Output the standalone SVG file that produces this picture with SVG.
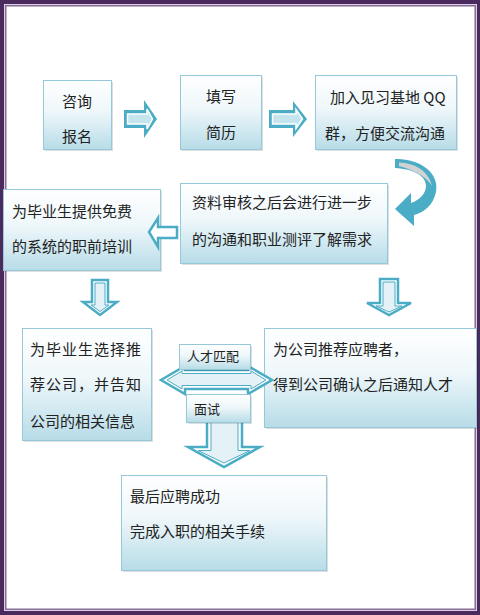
<svg xmlns="http://www.w3.org/2000/svg" width="480" height="615" viewBox="0 0 480 615">
<defs>
<linearGradient id="g" x1="0" y1="0" x2="0" y2="1">
<stop offset="0" stop-color="#ffffff"/>
<stop offset="0.45" stop-color="#eef7fa"/>
<stop offset="1" stop-color="#b7dce8"/>
</linearGradient>
<style>
.box{fill:url(#g);stroke:#95c9d9;stroke-width:1}
.sh{fill:#000;opacity:.13}
.t{font-family:"Noto Sans CJK SC","Noto Sans",sans-serif;font-size:15px;fill:#222}
.s{font-size:13px}
.c{text-anchor:middle}
.ao{fill:#4bacc6}
.ai{fill:#c4e5ee;stroke:#fff;stroke-width:1.5}
.ho{fill:#fff;stroke:#4bacc6;stroke-width:2.5;stroke-linejoin:miter}
.hi{fill:#e4f2f7;stroke:#4bacc6;stroke-width:1}
</style>
</defs>
<rect x="0" y="0" width="480" height="615" fill="#4b2b5d"/>
<rect x="4" y="4" width="473" height="607" fill="#ddd0e4"/>
<rect x="5.75" y="5.75" width="469.5" height="603.5" fill="#fff" stroke="#866c96" stroke-width="1.5"/>

<g id="node-zixun">
<rect class="sh" x="45" y="82" width="68" height="69"/>
<rect class="box" x="43.5" y="80.5" width="68" height="69"/>
<text class="t c" x="77" y="107">咨询</text>
<text class="t c" x="77" y="142">报名</text>
</g>
<g id="node-tianxie">
<rect class="sh" x="182" y="77" width="81" height="74"/>
<rect class="box" x="180.5" y="75.5" width="81" height="74"/>
<text class="t c" x="221" y="102">填写</text>
<text class="t c" x="221" y="138">简历</text>
</g>
<g id="node-qq">
<rect class="sh" x="317" y="77" width="141" height="74"/>
<rect class="box" x="315.5" y="75.5" width="141" height="74"/>
<text class="t" x="330" y="103">加入见习基地 QQ</text>
<text class="t" x="325" y="139">群，方便交流沟通</text>
</g>
<g id="node-shenhe">
<rect class="sh" x="182" y="185" width="207" height="80"/>
<rect class="box" x="180.5" y="183.5" width="207" height="80"/>
<text class="t" x="192" y="208">资料审核之后会进行进一步</text>
<text class="t" x="192" y="245">的沟通和职业测评了解需求</text>
</g>
<g id="node-peixun">
<rect class="sh" x="5" y="191" width="157" height="81"/>
<rect class="box" x="3.5" y="189.5" width="157" height="81"/>
<text class="t" x="12" y="217">为毕业生提供免费</text>
<text class="t" x="12" y="252">的系统的职前培训</text>
</g>
<g id="node-xuanze">
<rect class="sh" x="24" y="330" width="129" height="112"/>
<rect class="box" x="22.5" y="328.5" width="129" height="112"/>
<text class="t" x="30" y="355" letter-spacing="1">为毕业生选择推</text>
<text class="t" x="30" y="390" letter-spacing="1">荐公司，并告知</text>
<text class="t" x="30" y="427">公司的相关信息</text>
</g>
<g id="node-tuijian">
<rect class="sh" x="266" y="330" width="212" height="99"/>
<rect class="box" x="264.5" y="328.5" width="212" height="99"/>
<text class="t" x="273" y="355">为公司推荐应聘者，</text>
<text class="t" x="273" y="390">得到公司确认之后通知人才</text>
</g>
<g id="node-chenggong">
<rect class="sh" x="123" y="477" width="205" height="95"/>
<rect class="box" x="121.5" y="475.5" width="205" height="95"/>
<text class="t" x="130" y="502">最后应聘成功</text>
<text class="t" x="130" y="537">完成入职的相关手续</text>
</g>

<g id="connectors">
<polygon class="ao" points="124,110 144,110 144,100 157,119 144,138 144,128 124,128"/>
<polygon class="ai" points="127.5,114 147,114 147,109 152.5,119 147,129 147,124 127.5,124"/>
<polygon class="ao" points="269,110 293,110 293,101 307,119 293,137 293,128 269,128"/>
<polygon class="ai" points="272.5,114 296,114 296,109.5 302.5,119 296,128.5 296,124 272.5,124"/>
<path class="ao" d="M395 159 C418 158 440 172 436 192 C433 205 425 212 414 215 L414 226 L395 209 L411 193 L411 203 C420 200 426 193 426 186 C426 176 414 169 395 168 Z"/>
<path fill="#d2d2d2" d="M399 162.5 C416 163 429 172 432 186 C428 179 418 171 399 166 Z"/>
<polygon class="ho" points="177,227 158,227 158,218 149,232 158,247 158,238 177,238"/>
<polygon class="ho" points="92,280 108,280 108,302 117,302 100,315 83,302 92,302"/>
<polygon class="hi" points="95,283 105,283 105,305 109,305 100,311.5 91,305 95,305"/>
<polygon class="ho" points="380,279 398,279 398,303 411,303 389,315 367,303 380,303"/>
<polygon class="hi" points="383,282 395,282 395,306 402,306 389,312 376,306 383,306"/>
<polygon class="ho" points="161,380 185,366 185,370 248,370 248,366 272,380 248,394 248,389 185,389 185,394"/>
<polygon class="hi" points="167,380 182,371 182,373.5 251,373.5 251,371 266,380 251,389 251,385.5 182,385.5 182,389"/>
<polygon class="ho" points="207,418 242,418 242,447 260,447 224,467 188,447 207,447"/>
<polygon class="hi" points="211,418 238,418 238,450.5 250,450.5 224,463 198,450.5 211,450.5"/>
</g>

<g id="node-pipei">
<rect class="sh" x="181" y="346" width="71" height="25"/>
<rect class="box" x="179.5" y="344.5" width="71" height="25"/>
<text class="t s" x="187" y="361">人才匹配</text>
</g>
<g id="node-mianshi">
<rect class="sh" x="188" y="396" width="64" height="28"/>
<rect class="box" x="186.5" y="394.5" width="64" height="28"/>
<text class="t s" x="194" y="414">面试</text>
</g>
</svg>
